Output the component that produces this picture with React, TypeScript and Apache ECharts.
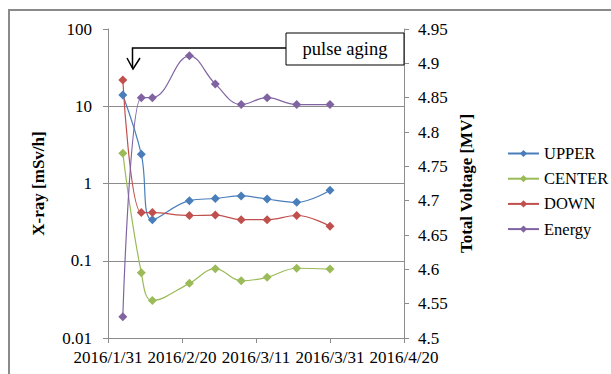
import React, { useEffect, useRef } from 'react';
import * as echarts from 'echarts';

const startDate = '2016-01-31';
const dates = ['2016-02-04', '2016-02-09', '2016-02-12', '2016-02-22', '2016-02-29', '2016-03-07', '2016-03-14', '2016-03-22', '2016-03-31'];
const upper = [14, 2.4, 0.34, 0.6, 0.64, 0.69, 0.63, 0.57, 0.82];
const center = [2.47, 0.07, 0.0305, 0.051, 0.079, 0.055, 0.061, 0.08, 0.078];
const down = [21.9, 0.42, 0.42, 0.385, 0.39, 0.34, 0.34, 0.385, 0.28];
const energy = [4.531, 4.85, 4.85, 4.911, 4.87, 4.84, 4.85, 4.84, 4.84];
const seriesNames = ['UPPER', 'CENTER', 'DOWN', 'Energy'];
const seriesColors = ['#4A7EBB', '#9BBB59', '#C0504D', '#8064A2'];
const annotation = 'pulse aging';

const DAY = 86400000;
const base = Date.parse(startDate);
const dayOf = (d: string) => (Date.parse(d) - base) / DAY;
const fmtDate = (v: number) => {
  const dt = new Date(base + Math.round(v) * DAY);
  return `${dt.getUTCFullYear()}/${dt.getUTCMonth() + 1}/${dt.getUTCDate()}`;
};

const FONT = 'Liberation Serif';
const AXIS = '#8c8c8c';
const labelStyle = { fontFamily: FONT, fontSize: 17, color: '#000', fontWeight: 'normal' as const };

export default function App() {
  const ref = useRef<HTMLDivElement>(null);
  useEffect(() => {
    document.body.style.margin = '0';
    const chart = echarts.init(ref.current!, null, { renderer: 'svg' });
    const xs = dates.map(dayOf);
    const mk = (vals: number[]) => vals.map((v, i) => [xs[i], v]);
    const values = [upper, center, down, energy];
    chart.setOption({
      animation: false,
      backgroundColor: '#fff',
      textStyle: { fontFamily: FONT },
      grid: { left: 108, right: 207, top: 29, bottom: 36, containLabel: false },
      legend: {
        orient: 'vertical',
        left: 502,
        top: 140,
        itemWidth: 31,
        itemHeight: 9,
        itemGap: 8.2,
        textStyle: { ...labelStyle, fontSize: 16.5, lineHeight: 16 },
        data: seriesNames,
      },
      xAxis: {
        type: 'value',
        min: 0,
        max: 80,
        interval: 20,
        axisLine: { show: true, lineStyle: { color: AXIS, width: 1 } },
        axisTick: { show: true, length: 5, lineStyle: { color: AXIS } },
        splitLine: { show: false },
        axisLabel: { ...labelStyle, formatter: (v: number) => fmtDate(v), margin: 11 },
      },
      yAxis: [
        {
          type: 'log',
          logBase: 10,
          min: 0.01,
          max: 100,
          name: 'X-ray [mSv/h]',
          nameLocation: 'middle',
          nameRotate: 90,
          nameGap: 61,
          nameTextStyle: { fontFamily: FONT, fontSize: 17, fontWeight: 'bold', color: '#000' },
          axisLine: { show: true, lineStyle: { color: AXIS } },
          axisTick: { show: true, length: 5, lineStyle: { color: AXIS } },
          splitLine: { show: true, showMaxLine: false, lineStyle: { color: AXIS, width: 1 } },
          axisLabel: {
            ...labelStyle, margin: 16,
            formatter: (v: number) => String(parseFloat(v.toPrecision(3))),
          },
        },
        {
          type: 'value',
          position: 'right',
          min: 4.5,
          max: 4.95,
          interval: 0.05,
          name: 'Total Voltage [MV]',
          nameLocation: 'middle',
          nameRotate: 90,
          nameGap: 54,
          nameTextStyle: { fontFamily: FONT, fontSize: 17, fontWeight: 'bold', color: '#000' },
          axisLine: { show: true, lineStyle: { color: AXIS } },
          axisTick: { show: true, length: 5, lineStyle: { color: AXIS } },
          splitLine: { show: false },
          axisLabel: {
            ...labelStyle, margin: 14,
            formatter: (v: number) => String(parseFloat(v.toFixed(2))),
          },
        },
      ],
      series: values.map((vals, i) => ({
        name: seriesNames[i],
        type: 'line',
        yAxisIndex: i === 3 ? 1 : 0,
        data: mk(vals),
        smooth: 0.4,
        symbol: 'diamond',
        symbolSize: 9,
        color: seriesColors[i],
        lineStyle: { width: 1.2, color: seriesColors[i] },
        itemStyle: { color: seriesColors[i] },
      })),
      graphic: [
        {
          type: 'rect', silent: true, z: 100,
          shape: { x: 9, y: 10, width: 800, height: 600 },
          style: { fill: 'none', stroke: '#8a8a8a', lineWidth: 2 },
        },
        {
          type: 'polyline', z: 100,
          shape: { points: [[132.5, 68], [132.5, 48], [286, 48]] },
          style: { fill: 'none', stroke: '#000', lineWidth: 1.5 },
        },
        {
          type: 'polyline', z: 100,
          shape: { points: [[127, 58], [133, 69], [140, 58]] },
          style: { fill: 'none', stroke: '#000', lineWidth: 1.5 },
        },
        {
          type: 'rect', z: 100,
          shape: { x: 286, y: 33, width: 118, height: 32 },
          style: { fill: '#fff', stroke: '#000', lineWidth: 1 },
        },
        {
          type: 'text', z: 101, x: 345, y: 49,
          style: { text: annotation, fontFamily: FONT, fontSize: 18.5, fill: '#000', align: 'center', verticalAlign: 'middle' },
        },
      ],
    });
    return () => chart.dispose();
  }, []);
  return <div ref={ref} style={{ width: 611, height: 374 }} />;
}
